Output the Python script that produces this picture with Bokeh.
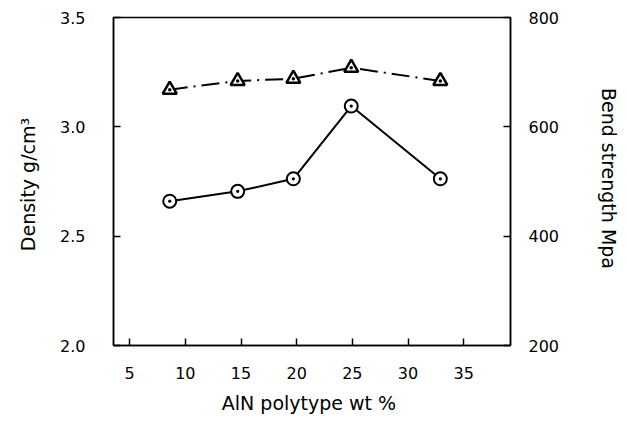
from bokeh.plotting import figure
from bokeh.models import Range1d, LinearAxis, FixedTicker, ColumnDataSource
from bokeh.embed import file_html
from bokeh.resources import INLINE

# Data
aln_wt = [8.6, 14.7, 19.7, 24.9, 32.9]
density = [3.17, 3.21, 3.22, 3.27, 3.21]          # g/cm3, left axis (triangles)
bend_strength = [464, 482, 505, 638, 505]        # MPa, right axis (circles)

x_ticks = [5, 10, 15, 20, 25, 30, 35]
left_ticks = [2.0, 2.5, 3.0, 3.5]
left_labels = ["2.0", "2.5", "3.0", "3.5"]
right_ticks = [200, 400, 600, 800]

FONT = "DejaVu Sans"
FS = "16px"
LFS = "19px"

p = figure(width=627, height=427, output_backend="svg", toolbar_location=None,
           x_range=Range1d(3.55, 39.2), y_range=Range1d(2.0, 3.5),
           min_border_left=113, min_border_right=117, min_border_top=17,
           min_border_bottom=82, background_fill_color="white",
           border_fill_color="white")
p.extra_y_ranges = {"bs": Range1d(200, 800)}

p.xgrid.visible = False
p.ygrid.visible = False
p.outline_line_color = "black"
p.outline_line_width = 1.5

def style_axis(ax):
    ax.axis_line_color = "black"
    ax.axis_line_width = 1.5
    ax.major_tick_in = 7
    ax.major_tick_out = 0
    ax.major_tick_line_width = 1.5
    ax.minor_tick_line_color = None
    ax.major_label_text_font = FONT
    ax.major_label_text_font_size = FS
    ax.major_label_text_color = "black"
    ax.axis_label_text_font = FONT
    ax.axis_label_text_font_size = LFS
    ax.axis_label_text_font_style = "normal"
    ax.axis_label_text_color = "black"

xa = p.xaxis[0]
style_axis(xa)
xa.ticker = FixedTicker(ticks=x_ticks)
xa.axis_label = "AlN polytype  wt %"
xa.major_label_standoff = 21
xa.axis_label_standoff = 10

ya = p.yaxis[0]
style_axis(ya)
ya.ticker = FixedTicker(ticks=left_ticks)
ya.major_label_overrides = {t: l for t, l in zip(left_ticks, left_labels)}
ya.axis_label = "Density  g/cm³"
ya.major_label_standoff = 28
ya.axis_label_standoff = 18

ra = LinearAxis(y_range_name="bs")
style_axis(ra)
ra.ticker = FixedTicker(ticks=right_ticks)
ra.major_label_standoff = 18
ra.axis_label = "Bend strength  Mpa"
ra.axis_label_standoff = 36
p.add_layout(ra, "right")

src_d = ColumnDataSource(dict(x=aln_wt, y=density))
src_b = ColumnDataSource(dict(x=aln_wt, y=bend_strength))

p.line("x", "y", source=src_d, line_color="black", line_width=2,
       line_dash="18 6 2 6")
p.scatter("x", "y", source=src_d, marker="triangle_dot", size=14,
          line_color="black", line_width=2.5, fill_color="white")

p.line("x", "y", source=src_b, y_range_name="bs", line_color="black",
       line_width=2)
p.scatter("x", "y", source=src_b, y_range_name="bs", marker="circle_dot",
          size=13, line_color="black", line_width=2, fill_color="white")

open("out.html", "w").write(file_html(p, INLINE))
